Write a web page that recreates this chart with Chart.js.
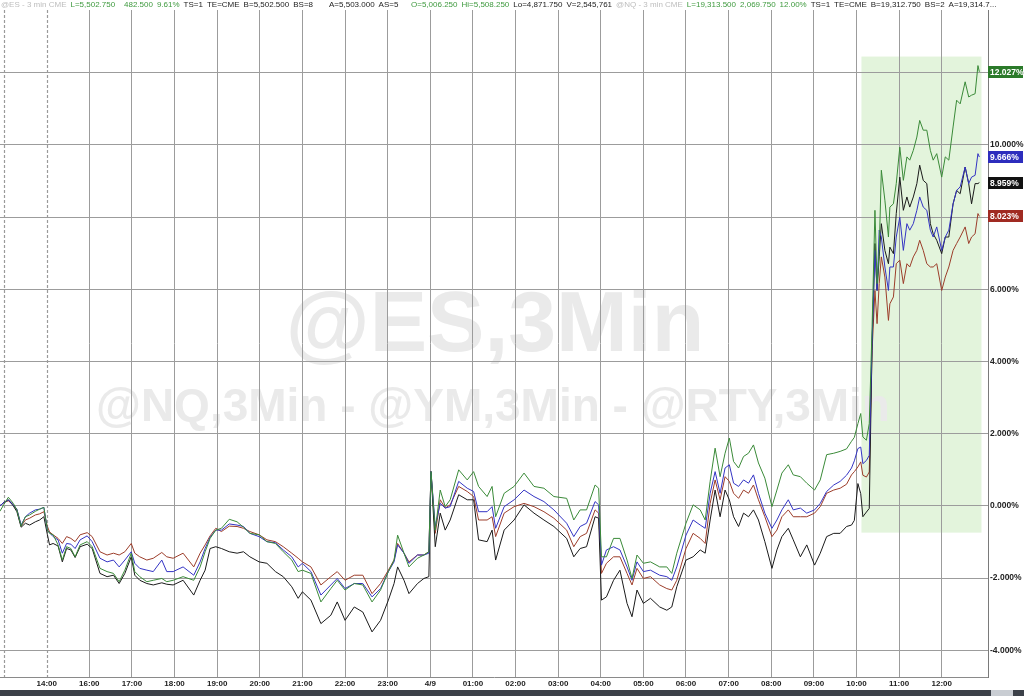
<!DOCTYPE html>
<html>
<head>
<meta charset="utf-8">
<script src="https://cdn.jsdelivr.net/npm/chart.js@4/dist/chart.umd.min.js"></script>
<style>
  html, body { margin: 0; padding: 0; background: #fff; overflow: hidden; }
  canvas { display: block; }
</style>
</head>
<body>
<canvas id="chart" width="1024" height="696"></canvas>
<script>
// 3-min session (percent change)
const times = [
  "12:54","13:00","13:06","13:13","13:18","13:24","13:30","13:36","13:44","13:50","13:56",
  "14:01","14:04","14:09","14:16","14:22","14:28","14:34","14:40","14:47","14:57",
  "16:04","16:15","16:25","16:34","16:42","16:50","16:59",
  "17:04","17:11","17:21","17:30","17:42","17:49","17:58",
  "18:12","18:27","18:36","18:43","18:50","18:58",
  "19:06","19:17","19:28","19:37","19:46","19:59",
  "20:10","20:22","20:33","20:45","20:54",
  "21:00","21:12","21:26","21:40","21:49",
  "22:00","22:13","22:25","22:38","22:50",
  "23:01","23:09","23:14","23:23","23:30","23:42","23:51","23:58",
  "00:01","00:07","00:14","00:21","00:28","00:40","00:52",
  "01:01","01:08","01:20","01:27","01:32","01:44","01:58",
  "02:12","02:26","02:40","02:54",
  "03:12","03:22","03:31","03:40","03:52","03:57",
  "04:01","04:08","04:18","04:27","04:37","04:44","04:51",
  "05:00","05:10","05:23","05:33","05:40","05:47",
  "06:00","06:10","06:20","06:27","06:34","06:41","06:48","06:55",
  "07:01","07:07","07:14","07:21","07:28","07:35","07:42","07:51",
  "08:01","08:08","08:15","08:24","08:31","08:41","08:50",
  "09:01","09:09","09:18","09:28","09:37","09:46","09:53","09:57",
  "10:02","10:06","10:09","10:14","10:18","10:22","10:26","10:29","10:32","10:35","10:40","10:45","10:47","10:52","10:56",
  "11:01","11:06","11:11","11:15","11:20","11:25","11:29","11:34","11:39","11:44","11:48","11:53",
  "12:00","12:05","12:10","12:16","12:21","12:26","12:33","12:38","12:42","12:47","12:51","12:53"
];

const nq = [
  -0.15,0.05,0.24,0.07,-0.11,-0.56,-0.30,-0.25,-0.15,-0.09,-0.04,
  -0.67,-0.76,-0.80,-1.08,-1.50,-1.13,-1.18,-1.41,-1.08,-0.99,
  -1.13,-1.73,-1.82,-1.87,-2.10,-1.78,-1.31,
  -1.82,-1.96,-2.10,-2.06,-2.01,-2.10,-2.06,
  -1.96,-2.06,-1.69,-1.27,-0.90,-0.67,
  -0.62,-0.37,-0.44,-0.59,-0.76,-0.80,
  -0.99,-1.04,-1.27,-1.50,-1.82,
  -1.78,-1.87,-2.66,-2.29,-2.06,
  -2.33,-2.15,-2.19,-2.66,-2.33,
  -1.82,-1.50,-0.81,-1.31,-1.69,-1.45,-1.36,-1.27,
  0.95,-0.67,0.44,-0.02,0.17,1.00,0.72,
  0.95,0.54,0.26,0.54,-0.30,0.35,0.54,
  0.91,0.54,0.49,0.26,
  0.21,-0.39,-0.11,-0.11,0.58,0.49,
  -1.41,-1.41,-0.90,-0.90,-1.50,-2.01,-1.36,
  -1.59,-1.55,-1.69,-1.69,-1.87,-1.31,
  -0.48,0.03,-0.11,-0.39,0.68,1.60,0.81,1.46,
  1.88,1.23,1.05,1.37,1.46,1.69,1.19,0.77,
  -0.02,0.44,0.91,1.14,0.86,0.81,0.63,
  0.44,0.72,1.42,1.46,1.51,1.58,1.79,1.90,
  2.28,2.56,1.91,1.82,2.28,4.96,8.19,6.16,7.08,9.30,8.47,7.45,8.28,8.37,8.93,
  9.94,9.02,9.67,9.58,9.85,10.22,10.68,10.41,10.41,9.85,9.58,9.76,
  9.11,9.67,9.58,10.50,11.24,11.14,11.75,11.33,11.38,11.42,12.20,12.027
];

const es = [
  0.00,0.10,0.17,0.03,-0.09,-0.53,-0.30,-0.20,-0.11,-0.09,-0.04,
  -0.67,-0.74,-0.85,-0.94,-1.31,-1.04,-1.06,-1.18,-0.94,-0.83,
  -0.99,-1.45,-1.55,-1.50,-1.69,-1.50,-1.27,
  -1.59,-1.73,-1.78,-1.82,-1.50,-1.82,-1.82,
  -1.69,-1.92,-1.55,-1.18,-0.87,-0.67,
  -0.67,-0.50,-0.53,-0.57,-0.76,-0.85,
  -0.99,-1.02,-1.22,-1.41,-1.69,
  -1.59,-1.82,-2.47,-2.19,-2.01,
  -2.29,-2.15,-2.15,-2.52,-2.29,
  -1.82,-1.55,-1.08,-1.31,-1.59,-1.36,-1.36,-1.31,
  0.95,-0.57,0.07,-0.06,-0.02,0.68,0.49,
  0.40,-0.16,-0.16,-0.02,-0.62,-0.02,0.17,
  0.44,0.26,0.12,-0.11,
  -0.48,-0.85,-0.57,-0.48,0.12,0.03,
  -1.64,-1.22,-1.13,-1.22,-1.69,-2.06,-1.55,
  -1.82,-1.78,-1.92,-1.96,-2.06,-1.69,
  -0.81,-0.39,-0.53,-0.62,0.35,0.95,0.35,1.05,
  1.14,0.63,0.54,0.72,0.63,0.86,0.35,-0.20,
  -0.62,-0.39,-0.11,0.17,-0.11,-0.06,-0.20,
  -0.11,0.07,0.40,0.58,0.68,0.85,1.05,1.25,
  1.59,1.63,1.17,1.26,1.40,4.59,7.08,5.97,7.64,7.45,6.62,5.97,6.62,6.62,7.45,
  8.00,7.08,7.82,7.64,7.82,8.19,8.56,8.28,8.19,7.64,7.45,7.73,
  7.08,7.45,7.64,8.37,8.74,8.84,9.39,8.93,9.11,9.16,9.76,9.666
];

const ym = [
  0.00,0.10,0.17,0.00,-0.16,-0.59,-0.48,-0.53,-0.44,-0.39,-0.30,
  -0.80,-1.08,-1.04,-1.11,-1.55,-1.18,-1.22,-1.43,-1.13,-1.06,
  -1.18,-1.87,-1.96,-1.92,-2.15,-1.87,-1.41,
  -1.92,-2.06,-2.15,-2.19,-2.13,-2.17,-2.19,
  -2.06,-2.47,-2.06,-1.78,-1.18,-1.13,
  -1.18,-1.27,-1.31,-1.27,-1.41,-1.55,
  -1.59,-1.82,-1.96,-2.24,-2.56,
  -2.38,-2.61,-3.26,-3.03,-2.66,
  -3.17,-2.80,-2.94,-3.49,-3.17,
  -2.61,-2.15,-1.69,-2.06,-2.43,-2.15,-2.01,-1.96,
  0.95,-1.13,-0.20,-0.67,-0.39,0.31,0.17,
  0.17,-0.94,-0.99,-0.67,-1.50,-0.67,-0.39,
  0.03,-0.20,-0.39,-0.57,
  -0.90,-1.41,-1.18,-1.13,-0.30,-0.34,
  -2.61,-2.52,-2.06,-1.78,-2.70,-3.07,-2.33,
  -2.70,-2.56,-2.80,-2.89,-2.80,-2.24,
  -1.50,-1.41,-1.22,-1.31,-0.39,0.44,-0.30,0.44,
  0.17,-0.30,-0.57,-0.20,-0.30,-0.11,-0.39,-0.99,
  -1.73,-1.22,-0.85,-0.62,-0.94,-1.41,-1.08,
  -1.64,-1.31,-0.85,-0.76,-0.76,-0.57,-0.53,-0.40,
  0.62,0.34,-0.30,-0.17,-0.07,4.50,7.27,5.97,6.90,7.82,7.08,6.71,7.17,6.99,8.10,
  9.11,8.19,8.56,8.28,8.56,8.93,9.44,9.02,8.93,7.82,7.54,7.36,
  6.99,7.45,7.45,8.37,8.74,8.65,9.39,8.93,8.37,8.93,8.93,8.959
];

const rty = [
  0.00,0.10,0.14,0.03,-0.11,-0.56,-0.39,-0.34,-0.25,-0.22,-0.16,
  -0.57,-0.72,-0.80,-0.90,-1.04,-0.85,-0.90,-0.99,-0.80,-0.74,
  -0.85,-1.27,-1.36,-1.31,-1.36,-1.27,-1.04,
  -1.31,-1.41,-1.50,-1.45,-1.29,-1.41,-1.45,
  -1.31,-1.69,-1.31,-1.08,-0.83,-0.62,
  -0.71,-0.56,-0.57,-0.62,-0.71,-0.80,
  -0.94,-0.99,-1.13,-1.31,-1.45,
  -1.55,-1.69,-2.19,-1.96,-1.82,
  -2.06,-1.92,-1.92,-2.43,-2.15,
  -1.78,-1.50,-1.04,-1.31,-1.55,-1.36,-1.36,-1.27,
  0.95,-0.76,0.17,-0.06,0.03,0.54,0.40,
  0.26,-0.39,-0.39,-0.30,-0.85,-0.20,-0.02,
  0.07,-0.02,-0.16,-0.34,
  -0.67,-1.13,-0.85,-0.76,-0.11,-0.20,
  -1.87,-1.59,-1.41,-1.41,-1.87,-2.19,-1.73,
  -2.01,-1.96,-2.19,-2.29,-2.33,-2.06,
  -1.18,-0.76,-0.90,-1.04,0.07,0.72,0.17,0.81,
  0.68,0.35,0.21,0.44,0.35,0.58,0.17,-0.30,
  -0.85,-0.67,-0.30,-0.11,-0.30,-0.30,-0.30,
  -0.20,-0.02,0.35,0.44,0.49,0.60,0.86,0.95,
  1.08,1.22,0.85,0.80,0.94,4.31,5.97,5.05,6.16,6.90,6.34,5.14,5.60,5.79,6.71,
  6.81,6.16,6.71,6.62,6.90,7.08,7.36,7.08,6.71,6.62,6.62,6.71,
  5.97,6.34,6.62,7.08,7.27,7.45,7.73,7.27,7.45,7.54,8.10,8.023
];

const hourLabels = ["14:00","16:00","17:00","18:00","19:00","20:00","21:00","22:00","23:00","4/9",
  "01:00","02:00","03:00","04:00","05:00","06:00","07:00","08:00","09:00","10:00","11:00","12:00"];
const yTicks = [-4, -2, 0, 2, 4, 6, 8, 10, 12];

// shaded zone after the open
const zoneFrom = "10:07", zoneTo = "12:56", zoneTop = 12.45, zoneBottom = -0.74;

// session slot: 13:00 = 0, 15:00-16:00 break skipped, midnight = 10
function slot(hr, day) {
  if (day === 2) return hr + 10;
  return hr < 15 ? hr - 13 : hr - 14;
}
function hrOf(t) { const [h, m] = t.split(":").map(Number); return h + m / 60; }
const pos = (() => {
  let day = 1, prev = -1;
  return times.map(t => {
    const hr = hrOf(t);
    if (hr < prev) day = 2;
    prev = hr;
    return slot(hr, day);
  });
})();

const series = [
  { label: "@NQ", values: nq, color: "#3a8a38", box: "#2b7a2a" },
  { label: "@ES", values: es, color: "#3434c4", box: "#2d2dbd" },
  { label: "@YM", values: ym, color: "#1a1a1a", box: "#111111" },
  { label: "@RTY", values: rty, color: "#9c3d2a", box: "#a02a22" }
];

const gridColor = "#9c9c9c";
const FONT = "Liberation Sans";

const header = [
  ["@ES - 3 min CME", 1, "#bdbdbd"],
  ["L=5,502.750", 68, "#3f9a3f"], ["482.500", 124, "#3f9a3f"], ["9.61%", 153, "#3f9a3f"],
  ["TS=1", 182, "#222"], ["TE=CME", 206, "#222"], ["B=5,502.500", 232, "#222"], ["BS=8", 281, "#222"],
  ["A=5,503.000", 329, "#222"], ["AS=5", 377, "#222"],
  ["O=5,006.250", 411, "#3f9a3f"], ["Hi=5,508.250", 460, "#3f9a3f"],
  ["Lo=4,871.750", 508, "#222"], ["V=2,545,761", 557, "#222"],
  ["@NQ - 3 min CME", 607, "#bdbdbd"],
  ["L=19,313.500", 671, "#3f9a3f"], ["2,069.750", 733, "#3f9a3f"], ["12.00%", 767, "#3f9a3f"],
  ["TS=1", 798, "#222"], ["TE=CME", 823, "#222"], ["B=19,312.750", 850, "#222"], ["BS=2", 909, "#222"],
  ["A=19,314.7...", 933, "#222"]
];

const overlay = {
  id: "overlay",
  beforeDraw(chart) {
    const { ctx, scales: { x, y } } = chart;
    ctx.save();
    const x1 = x.getPixelForValue(slot(hrOf(zoneFrom), 2));
    const x2 = x.getPixelForValue(slot(hrOf(zoneTo), 2));
    const y1 = y.getPixelForValue(zoneTop), y2 = y.getPixelForValue(zoneBottom);
    ctx.fillStyle = "#e3f4dc";
    ctx.fillRect(x1, y1, x2 - x1, y2 - y1);

    ctx.fillStyle = "#eaeaea";
    ctx.textAlign = "center";
    ctx.textBaseline = "alphabetic";
    ctx.font = `bold 86px "${FONT}"`;
    ctx.fillText("@ES,3Min", 495, 351);
    ctx.font = `bold 46px "${FONT}"`;
    ctx.fillText("@NQ,3Min - @YM,3Min - @RTY,3Min", 493, 421);
    ctx.restore();
  },
  beforeDatasetsDraw(chart) {
    const { ctx, chartArea: a, scales: { x } } = chart;
    ctx.save();
    ctx.strokeStyle = "#9a9a9a";
    ctx.lineWidth = 1.2;
    ctx.setLineDash([3, 2]);
    [0, 1].forEach(v => {
      const px = Math.round(x.getPixelForValue(v)) + 0.5;
      ctx.beginPath();
      ctx.moveTo(px, a.top);
      ctx.lineTo(px, a.bottom);
      ctx.stroke();
    });
    ctx.restore();
  },
  afterDraw(chart) {
    const { ctx, scales: { y } } = chart;
    ctx.save();
    // header line, pushed right if a piece would overlap the previous one
    ctx.font = `8px "${FONT}"`;
    ctx.textBaseline = "middle";
    ctx.textAlign = "left";
    let cursor = -10;
    header.forEach(([t, px, c]) => {
      const left = Math.max(px, cursor + 4);
      ctx.fillStyle = c;
      ctx.fillText(t, left, 5);
      cursor = left + ctx.measureText(t).width;
    });

    // last value tags
    ctx.font = `bold 8.5px "${FONT}"`;
    series.forEach(s => {
      const v = s.values[s.values.length - 1];
      const py = Math.round(y.getPixelForValue(v));
      ctx.fillStyle = s.box;
      ctx.fillRect(988, py - 6, 35, 12);
      ctx.fillStyle = "#fff";
      ctx.fillText(v.toFixed(3) + "%", 990, py + 0.5);
    });

    // bottom bar
    ctx.fillStyle = "#3c4149";
    ctx.fillRect(0, 690, 1024, 6);
    ctx.fillStyle = "#c9cdd3";
    ctx.fillRect(991, 690, 22, 6);
    ctx.restore();
  }
};

new Chart(document.getElementById("chart"), {
  type: "line",
  data: {
    datasets: series.map(s => ({
      label: s.label,
      data: pos.map((p, i) => ({ x: p, y: s.values[i] })),
      borderColor: s.color,
      borderWidth: 1,
      tension: 0,
      pointRadius: 0,
      fill: false
    }))
  },
  options: {
    responsive: false,
    animation: false,
    devicePixelRatio: 1,
    layout: { padding: { top: 10, left: 0, right: 0, bottom: 0 } },
    plugins: {
      legend: { display: false },
      title: { display: false },
      tooltip: { enabled: false }
    },
    scales: {
      x: {
        type: "linear",
        min: -0.096,
        max: 23.086,
        afterBuildTicks: (axis) => {
          axis.ticks = hourLabels.map((_, i) => ({ value: i + 1 }));
        },
        afterFit: (s) => { s.height = 19; },
        ticks: {
          autoSkip: false,
          maxRotation: 0,
          padding: 2,
          color: "#222",
          font: { family: FONT, size: 8, weight: "bold" },
          callback: (v, i) => hourLabels[i]
        },
        grid: {
          drawTicks: false,
          color: (c) => (c.tick && c.tick.value === 1 ? "rgba(0,0,0,0)" : gridColor)
        },
        border: { color: "#8a8a8a" }
      },
      y: {
        position: "right",
        min: -4.74,
        max: 13.74,
        afterBuildTicks: (axis) => {
          axis.ticks = yTicks.map((value) => ({ value }));
        },
        afterFit: (s) => { s.width = 36; },
        ticks: {
          padding: 2,
          color: "#222",
          font: { family: FONT, size: 8.5, weight: "bold" },
          callback: (v) => v.toFixed(3) + "%"
        },
        grid: { drawTicks: false, color: gridColor },
        border: { color: "#7a7a7a" }
      }
    }
  },
  plugins: [overlay]
});
</script>
</body>
</html>
